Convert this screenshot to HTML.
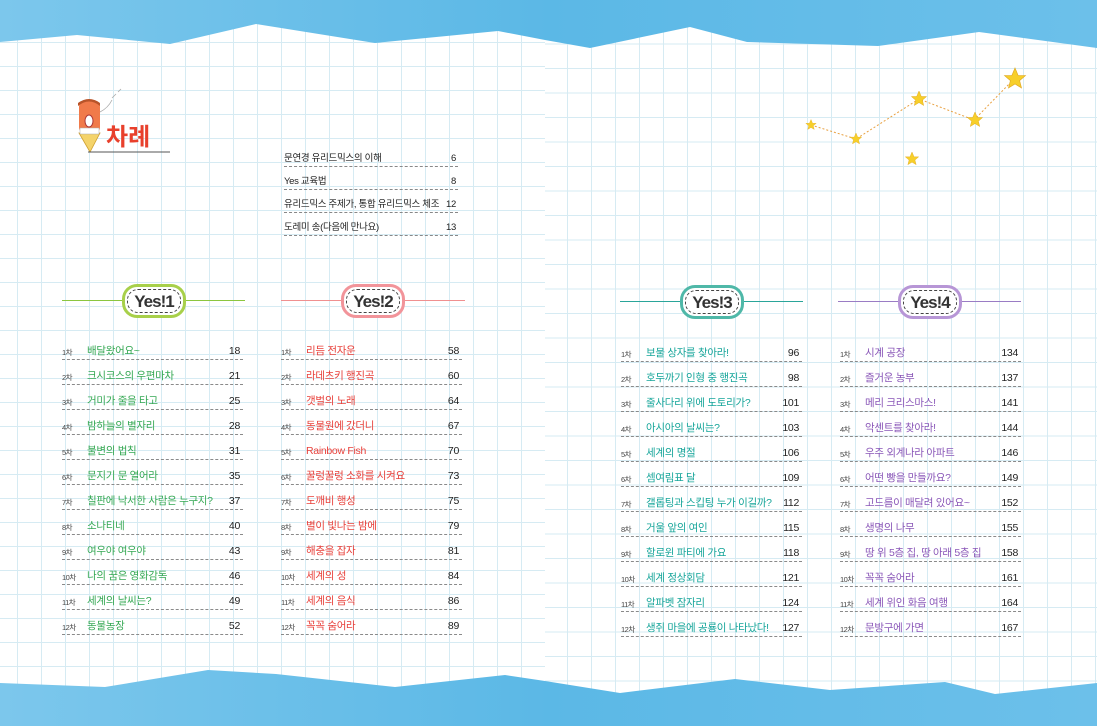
<!DOCTYPE html>
<html><head><meta charset="utf-8"><style>
*{margin:0;padding:0;box-sizing:border-box}
body{width:1097px;height:726px;overflow:hidden;position:relative;background:#fff;font-family:"Liberation Sans","Noto Sans CJK KR",sans-serif}
.gl{position:absolute;left:0;top:0;width:545px;height:726px;background-image:linear-gradient(90deg,#d6ebf3 1px,transparent 1px),linear-gradient(#d6ebf3 1px,transparent 1px);background-size:24px 24px;background-position:17px 18px}
.gr{position:absolute;left:545px;top:0;width:552px;height:726px;background-image:linear-gradient(90deg,#d6ebf3 1px,transparent 1px),linear-gradient(#d6ebf3 1px,transparent 1px);background-size:24px 24.5px;background-position:22px 19px}
svg.bg{position:absolute;left:0;top:0}
.row{position:absolute;height:16px;border-bottom:1px dashed #8a8a8a;font-size:10.5px;line-height:15px;white-space:nowrap;letter-spacing:-0.3px}
.row .n{position:absolute;left:0;top:1px;font-size:7.5px;color:#444;letter-spacing:-0.5px}
.row .t{position:absolute;left:25px;top:0}
.row .p{position:absolute;right:3px;top:0;color:#222;background:transparent}
.c1 .t{color:#35a853}.c2 .t{color:#e8403a}.c3 .t{color:#16a59a}.c4 .t{color:#8a57b8}
.hl{position:absolute;height:1px}
.badge{position:absolute;width:64px;height:34px;border-radius:15px;border:3px solid;background:#fff;text-align:center}
.badge div{position:absolute;left:2px;top:2px;right:2px;bottom:2px;border:1px dashed #444;border-radius:11px;font:bold 17px/24px "Liberation Sans",sans-serif;color:#333;letter-spacing:-1px}
.toc{position:absolute;left:284px;width:174px;height:15px;border-bottom:1px dashed #888;font-size:9.5px;line-height:14px;color:#222;white-space:nowrap;letter-spacing:-0.3px}
.toc span{position:absolute;right:2px}
</style></head><body>
<div class="gl"></div><div class="gr"></div>
<svg class="bg" width="1097" height="726">
<defs><linearGradient id="w" x1="0" y1="0" x2="1" y2="0"><stop offset="0" stop-color="#7cc7ec"/><stop offset=".5" stop-color="#5bb8e6"/><stop offset="1" stop-color="#6cc0ea"/></linearGradient></defs>
<polygon fill="url(#w)" points="0,0 1097,0 1097,48 979,32 878,46 747,42 690,27 590,48 545,40 498,31 375,43 256,24 170,44 77,35 0,42"/>
<polygon fill="url(#w)" points="0,726 1097,726 1097,683 995,694 945,682 830,690 735,679 620,693 545,681 505,675 395,687 276,674 208,670 105,687 0,683"/>
<polyline fill="none" stroke="#e8a040" stroke-width="1" stroke-dasharray="2,2" points="811,125 856,139 919,99 974,120 1014,79"/>
<g fill="#f7cf2a" stroke="#e0a820" stroke-width=".6">
<polygon transform="translate(811,125) scale(.55)" points="0,-10 2.9,-3.1 9.5,-3.1 4.2,1.5 5.9,8.1 0,4.5 -5.9,8.1 -4.2,1.5 -9.5,-3.1 -2.9,-3.1"/>
<polygon transform="translate(856,139) scale(.6)" points="0,-10 2.9,-3.1 9.5,-3.1 4.2,1.5 5.9,8.1 0,4.5 -5.9,8.1 -4.2,1.5 -9.5,-3.1 -2.9,-3.1"/>
<polygon transform="translate(919,99) scale(.8)" points="0,-10 2.9,-3.1 9.5,-3.1 4.2,1.5 5.9,8.1 0,4.5 -5.9,8.1 -4.2,1.5 -9.5,-3.1 -2.9,-3.1"/>
<polygon transform="translate(975,120) scale(.8)" points="0,-10 2.9,-3.1 9.5,-3.1 4.2,1.5 5.9,8.1 0,4.5 -5.9,8.1 -4.2,1.5 -9.5,-3.1 -2.9,-3.1"/>
<polygon transform="translate(1015,79) scale(1.1)" points="0,-10 2.9,-3.1 9.5,-3.1 4.2,1.5 5.9,8.1 0,4.5 -5.9,8.1 -4.2,1.5 -9.5,-3.1 -2.9,-3.1"/>
<polygon transform="translate(912,159) scale(.7)" points="0,-10 2.9,-3.1 9.5,-3.1 4.2,1.5 5.9,8.1 0,4.5 -5.9,8.1 -4.2,1.5 -9.5,-3.1 -2.9,-3.1"/>
</g>
<rect x="79" y="100" width="21" height="34" rx="7" fill="#f07a4a"/>
<path d="M78,106 q11,-9 22,0 v-3 q-11,-8 -22,0z" fill="#b8542a"/>
<ellipse cx="89" cy="121" rx="4" ry="6" fill="#fff" stroke="#a33" stroke-width="1"/>
<path d="M79,133 h21 l-10,19 z" fill="#f4d36a" stroke="#d0a030" stroke-width=".8"/>
<path d="M80,128 h19 v6 h-19z" fill="#fff" stroke="#aaa" stroke-width=".5"/>
<path d="M100,112 q8,-4 12,-12 M112,98 l4,-4 M118,92 l3,-3" stroke="#aaa" fill="none" stroke-width=".8"/>
<line x1="88" y1="152" x2="170" y2="152" stroke="#555" stroke-width="1"/>
<text x="106" y="145" font-family="Liberation Sans,Noto Sans CJK KR,sans-serif" font-weight="bold" font-size="24" fill="#e8402c">차례</text>
</svg>

<div class="toc" style="top:152px">문연경 유리드믹스의 이해<span>6</span></div>
<div class="toc" style="top:175px">Yes 교육법<span>8</span></div>
<div class="toc" style="top:198px">유리드믹스 주제가, 통합 유리드믹스 체조<span>12</span></div>
<div class="toc" style="top:221px">도레미 송(다음에 만나요)<span>13</span></div>

<div class="hl" style="left:62px;top:300px;width:183px;background:#8cc63f"></div>
<div class="badge" style="left:122px;top:284px;border-color:#a8d04a"><div>Yes!1</div></div>
<div class="hl" style="left:281px;top:300px;width:184px;background:#f09090"></div>
<div class="badge" style="left:341px;top:284px;border-color:#f2949a"><div>Yes!2</div></div>
<div class="hl" style="left:620px;top:301px;width:183px;background:#2aa59a"></div>
<div class="badge" style="left:680px;top:285px;border-color:#4fb8a8"><div>Yes!3</div></div>
<div class="hl" style="left:838px;top:301px;width:183px;background:#9a7cc4"></div>
<div class="badge" style="left:898px;top:285px;border-color:#b796d6"><div>Yes!4</div></div>

<div class="c1">
<div class="row" style="left:62px;width:181px;top:344px"><span class="n">1차</span><span class="t">배달왔어요~</span><span class="p">18</span></div>
<div class="row" style="left:62px;width:181px;top:369px"><span class="n">2차</span><span class="t">크시코스의 우편마차</span><span class="p">21</span></div>
<div class="row" style="left:62px;width:181px;top:394px"><span class="n">3차</span><span class="t">거미가 줄을 타고</span><span class="p">25</span></div>
<div class="row" style="left:62px;width:181px;top:419px"><span class="n">4차</span><span class="t">밤하늘의 별자리</span><span class="p">28</span></div>
<div class="row" style="left:62px;width:181px;top:444px"><span class="n">5차</span><span class="t">불변의 법칙</span><span class="p">31</span></div>
<div class="row" style="left:62px;width:181px;top:469px"><span class="n">6차</span><span class="t">문지기 문 열어라</span><span class="p">35</span></div>
<div class="row" style="left:62px;width:181px;top:494px"><span class="n">7차</span><span class="t">칠판에 낙서한 사람은 누구지?</span><span class="p">37</span></div>
<div class="row" style="left:62px;width:181px;top:519px"><span class="n">8차</span><span class="t">소나티네</span><span class="p">40</span></div>
<div class="row" style="left:62px;width:181px;top:544px"><span class="n">9차</span><span class="t">여우야 여우야</span><span class="p">43</span></div>
<div class="row" style="left:62px;width:181px;top:569px"><span class="n">10차</span><span class="t">나의 꿈은 영화감독</span><span class="p">46</span></div>
<div class="row" style="left:62px;width:181px;top:594px"><span class="n">11차</span><span class="t">세계의 날씨는?</span><span class="p">49</span></div>
<div class="row" style="left:62px;width:181px;top:619px"><span class="n">12차</span><span class="t">동물농장</span><span class="p">52</span></div>
</div>
<div class="c2">
<div class="row" style="left:281px;width:181px;top:344px"><span class="n">1차</span><span class="t">리듬 전자운</span><span class="p">58</span></div>
<div class="row" style="left:281px;width:181px;top:369px"><span class="n">2차</span><span class="t">라데츠키 행진곡</span><span class="p">60</span></div>
<div class="row" style="left:281px;width:181px;top:394px"><span class="n">3차</span><span class="t">갯벌의 노래</span><span class="p">64</span></div>
<div class="row" style="left:281px;width:181px;top:419px"><span class="n">4차</span><span class="t">동물원에 갔더니</span><span class="p">67</span></div>
<div class="row" style="left:281px;width:181px;top:444px"><span class="n">5차</span><span class="t">Rainbow Fish</span><span class="p">70</span></div>
<div class="row" style="left:281px;width:181px;top:469px"><span class="n">6차</span><span class="t">꿀렁꿀렁 소화를 시켜요</span><span class="p">73</span></div>
<div class="row" style="left:281px;width:181px;top:494px"><span class="n">7차</span><span class="t">도깨비 행성</span><span class="p">75</span></div>
<div class="row" style="left:281px;width:181px;top:519px"><span class="n">8차</span><span class="t">별이 빛나는 밤에</span><span class="p">79</span></div>
<div class="row" style="left:281px;width:181px;top:544px"><span class="n">9차</span><span class="t">해충을 잡자</span><span class="p">81</span></div>
<div class="row" style="left:281px;width:181px;top:569px"><span class="n">10차</span><span class="t">세계의 성</span><span class="p">84</span></div>
<div class="row" style="left:281px;width:181px;top:594px"><span class="n">11차</span><span class="t">세계의 음식</span><span class="p">86</span></div>
<div class="row" style="left:281px;width:181px;top:619px"><span class="n">12차</span><span class="t">꼭꼭 숨어라</span><span class="p">89</span></div>
</div>
<div class="c3">
<div class="row" style="left:621px;width:181px;top:346px"><span class="n">1차</span><span class="t">보물 상자를 찾아라!</span><span class="p">96</span></div>
<div class="row" style="left:621px;width:181px;top:371px"><span class="n">2차</span><span class="t">호두까기 인형 중 행진곡</span><span class="p">98</span></div>
<div class="row" style="left:621px;width:181px;top:396px"><span class="n">3차</span><span class="t">줄사다리 위에 도토리가?</span><span class="p">101</span></div>
<div class="row" style="left:621px;width:181px;top:421px"><span class="n">4차</span><span class="t">아시아의 날씨는?</span><span class="p">103</span></div>
<div class="row" style="left:621px;width:181px;top:446px"><span class="n">5차</span><span class="t">세계의 명절</span><span class="p">106</span></div>
<div class="row" style="left:621px;width:181px;top:471px"><span class="n">6차</span><span class="t">셈여림표 달</span><span class="p">109</span></div>
<div class="row" style="left:621px;width:181px;top:496px"><span class="n">7차</span><span class="t">갤롭팅과 스킵팅 누가 이길까?</span><span class="p">112</span></div>
<div class="row" style="left:621px;width:181px;top:521px"><span class="n">8차</span><span class="t">거울 앞의 여인</span><span class="p">115</span></div>
<div class="row" style="left:621px;width:181px;top:546px"><span class="n">9차</span><span class="t">할로윈 파티에 가요</span><span class="p">118</span></div>
<div class="row" style="left:621px;width:181px;top:571px"><span class="n">10차</span><span class="t">세계 정상회담</span><span class="p">121</span></div>
<div class="row" style="left:621px;width:181px;top:596px"><span class="n">11차</span><span class="t">알파벳 잠자리</span><span class="p">124</span></div>
<div class="row" style="left:621px;width:181px;top:621px"><span class="n">12차</span><span class="t">생쥐 마을에 공룡이 나타났다!</span><span class="p">127</span></div>
</div>
<div class="c4">
<div class="row" style="left:840px;width:181px;top:346px"><span class="n">1차</span><span class="t">시계 공장</span><span class="p">134</span></div>
<div class="row" style="left:840px;width:181px;top:371px"><span class="n">2차</span><span class="t">즐거운 농부</span><span class="p">137</span></div>
<div class="row" style="left:840px;width:181px;top:396px"><span class="n">3차</span><span class="t">메리 크리스마스!</span><span class="p">141</span></div>
<div class="row" style="left:840px;width:181px;top:421px"><span class="n">4차</span><span class="t">악센트를 찾아라!</span><span class="p">144</span></div>
<div class="row" style="left:840px;width:181px;top:446px"><span class="n">5차</span><span class="t">우주 외계나라 아파트</span><span class="p">146</span></div>
<div class="row" style="left:840px;width:181px;top:471px"><span class="n">6차</span><span class="t">어떤 빵을 만들까요?</span><span class="p">149</span></div>
<div class="row" style="left:840px;width:181px;top:496px"><span class="n">7차</span><span class="t">고드름이 매달려 있어요~</span><span class="p">152</span></div>
<div class="row" style="left:840px;width:181px;top:521px"><span class="n">8차</span><span class="t">생명의 나무</span><span class="p">155</span></div>
<div class="row" style="left:840px;width:181px;top:546px"><span class="n">9차</span><span class="t">땅 위 5층 집, 땅 아래 5층 집</span><span class="p">158</span></div>
<div class="row" style="left:840px;width:181px;top:571px"><span class="n">10차</span><span class="t">꼭꼭 숨어라</span><span class="p">161</span></div>
<div class="row" style="left:840px;width:181px;top:596px"><span class="n">11차</span><span class="t">세계 위인 화음 여행</span><span class="p">164</span></div>
<div class="row" style="left:840px;width:181px;top:621px"><span class="n">12차</span><span class="t">문방구에 가면</span><span class="p">167</span></div>
</div>
</body></html>
